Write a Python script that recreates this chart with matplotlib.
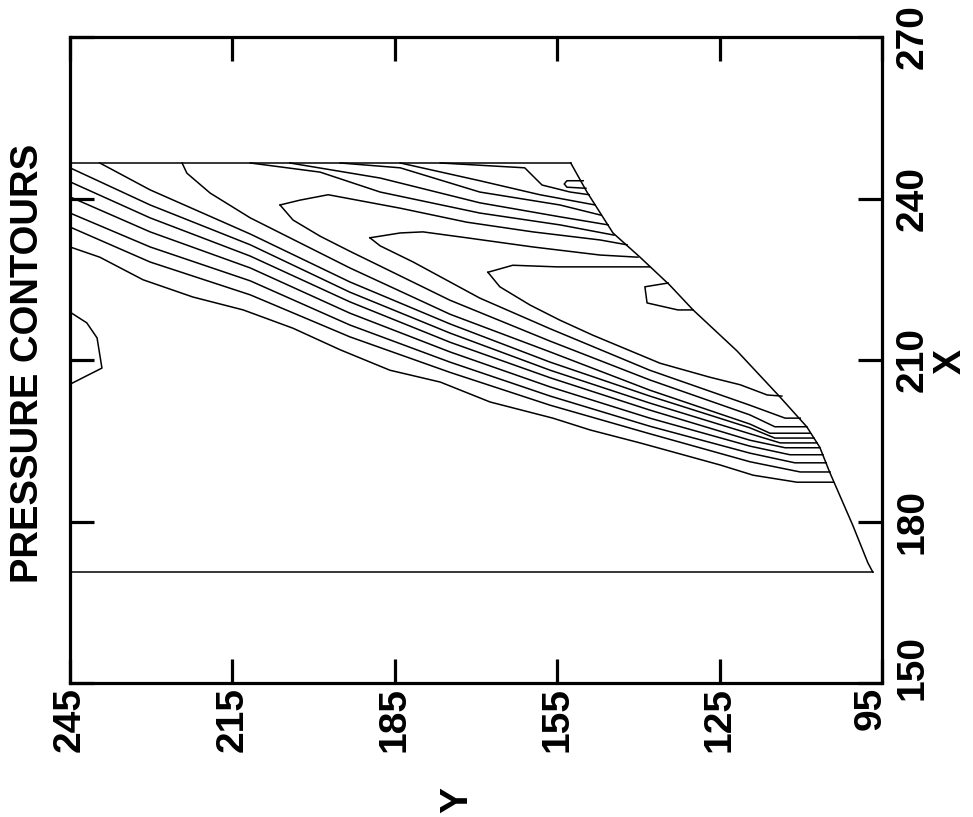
import matplotlib
matplotlib.use("Agg")
import matplotlib.pyplot as plt
from matplotlib.transforms import ScaledTranslation

plt.rcParams['font.family'] = ['Liberation Sans', 'DejaVu Sans']

# ---------------- data (horizontal axis = Y, vertical axis = X) ----------------
x_ticks = [150, 180, 210, 240, 270]
y_ticks = [245, 215, 185, 155, 125, 95]

domain_top_x = 246.6
domain_bottom_x = 170.6
domain_left_y = 245.0

body_y = [152.5, 149.5, 144.7, 139.7, 134.2, 129.9, 121.8, 114.0, 108.9, 106.5, 104.6, 100.4, 97.6, 96.7]
body_x = [246.6, 241.2, 233.6, 229.1, 223.9, 219.3, 211.7, 203.3, 197.6, 193.8, 189.0, 179.3, 172.3, 170.6]

# lower family of contours (left edge / top edge -> body)
l247_y = [245.0, 239.5, 231.5, 222.3, 213.0, 203.8, 195.1, 185.9, 176.6, 167.4, 155.8, 148.9, 139.7, 124.9, 118.8, 110.7, 104.0]
l247_x = [231.0, 229.1, 224.9, 221.7, 219.3, 215.9, 211.9, 208.1, 205.9, 202.2, 199.2, 197.0, 194.6, 190.5, 188.6, 187.3, 187.3]
l227_y = [245.0, 230.2, 211.7, 193.3, 174.8, 156.3, 137.9, 119.4, 110.1, 104.6]
l227_x = [234.7, 228.2, 222.1, 214.3, 207.7, 201.6, 196.3, 191.1, 189.2, 189.2]
l213_y = [245.0, 230.2, 211.7, 193.3, 174.8, 156.3, 137.9, 119.4, 111.1, 105.3]
l213_x = [237.3, 231.0, 224.7, 216.5, 209.6, 203.3, 197.7, 192.7, 190.9, 190.9]
l197_y = [245.0, 230.2, 211.7, 193.3, 174.8, 156.3, 137.9, 119.4, 112.0, 105.9]
l197_x = [240.3, 233.8, 227.1, 218.7, 211.5, 205.0, 199.2, 194.0, 192.4, 192.4]
l182_y = [245.0, 230.2, 211.7, 193.3, 174.8, 156.3, 137.9, 119.4, 112.9, 106.5]
l182_x = [243.1, 236.4, 229.3, 220.8, 213.3, 206.7, 200.7, 195.1, 193.7, 193.7]
l168_y = [245.0, 230.2, 211.7, 193.3, 174.8, 156.3, 137.9, 119.4, 113.8, 107.0]
l168_x = [245.7, 238.8, 231.4, 222.6, 215.0, 208.1, 202.0, 196.3, 194.6, 194.6]
t100_y = [239.5, 230.2, 211.7, 193.3, 174.8, 156.3, 137.9, 119.4, 114.8, 107.6]
t100_x = [246.6, 241.6, 233.4, 224.5, 216.7, 209.6, 203.3, 197.4, 195.5, 195.5]
t0_y = [224.3, 223.4, 219.1, 211.7, 193.3, 174.8, 156.3, 137.9, 119.4, 115.7, 108.3]
t0_x = [246.6, 244.7, 241.0, 236.4, 227.1, 218.5, 211.5, 204.4, 198.1, 196.4, 196.4]

# nested tongues
a_lo_y = [206.2, 203.8, 198.8, 193.3, 174.8, 156.3, 137.9, 119.4, 114.8, 108.9]
a_lo_x = [238.8, 236.0, 233.0, 230.2, 221.1, 213.5, 206.3, 199.8, 197.6, 197.6]
a_up_y = [206.2, 202.5, 197.3, 184.0, 171.7, 159.5, 147.1, 142.1]
a_up_x = [238.8, 239.7, 240.7, 238.2, 235.6, 233.8, 232.3, 231.4]
b_lo_y = [189.6, 187.7, 181.6, 169.3, 156.3, 137.9, 119.4, 112.9, 110.1]
b_lo_x = [232.7, 231.2, 228.2, 221.5, 215.8, 208.1, 201.6, 199.2, 199.2]
b_up_y = [189.6, 184.0, 179.8, 171.7, 159.5, 147.1, 140.1]
b_up_x = [232.7, 233.6, 233.8, 232.7, 231.0, 229.5, 229.1]
c_lo_y = [167.8, 165.6, 160.0, 154.5, 148.4, 136.0, 126.8, 121.2, 116.2, 113.5]
c_lo_x = [226.3, 223.6, 220.2, 217.4, 214.6, 209.4, 206.8, 205.4, 203.5, 203.3]
c_up_y = [167.8, 163.2, 155.0, 137.9]
c_up_x = [226.3, 227.6, 227.3, 227.3]
d_y = [134.5, 138.8, 138.4, 132.7, 129.9]
d_x = [224.3, 223.6, 220.6, 219.3, 219.3]

# upper family (top edge -> body)
u1_y = [211.7, 198.8, 187.7, 169.3, 154.5, 144.5]
u1_x = [246.6, 244.9, 241.2, 237.3, 235.1, 233.2]
u2_y = [204.4, 187.7, 169.3, 154.5, 145.6]
u2_x = [246.6, 243.8, 239.2, 236.6, 235.1]
u3_y = [195.1, 184.0, 169.3, 154.5, 146.9]
u3_x = [246.6, 245.7, 241.2, 238.8, 236.9]
u4_y = [184.0, 169.3, 158.2, 148.0]
u4_x = [246.6, 243.3, 240.7, 238.8]
u5_y = [176.6, 161.0, 157.8, 152.6, 149.1]
u5_x = [246.6, 245.7, 242.5, 241.2, 240.7]
loop_y = [150.2, 153.2, 153.7, 153.2, 149.7]
loop_x = [243.3, 243.3, 242.7, 242.1, 241.9]

# small bump at the left edge
bump_y = [245.0, 241.9, 240.0, 239.1, 244.6, 245.0]
bump_x = [218.9, 216.9, 214.1, 208.5, 205.7, 205.5]

contours = [
    (l247_y, l247_x), (l227_y, l227_x), (l213_y, l213_x), (l197_y, l197_x),
    (l182_y, l182_x), (l168_y, l168_x), (t100_y, t100_x), (t0_y, t0_x),
    (a_lo_y, a_lo_x), (a_up_y, a_up_x), (b_lo_y, b_lo_x), (b_up_y, b_up_x),
    (c_lo_y, c_lo_x), (c_up_y, c_up_x), (d_y, d_x),
    (u1_y, u1_x), (u2_y, u2_x), (u3_y, u3_x), (u4_y, u4_x), (u5_y, u5_x),
    (loop_y, loop_x), (bump_y, bump_x),
]

# ---------------- figure ----------------
fig = plt.figure(figsize=(9.73, 8.17), dpi=100)
ax = fig.add_axes([70 / 973, 1 - 683 / 817, 812 / 973, 646 / 817])

lw = 1.1
# domain boundary
ax.plot([domain_left_y, body_y[0]], [domain_top_x, domain_top_x], color='black', lw=lw)
ax.plot([domain_left_y, body_y[-1]], [domain_bottom_x, domain_bottom_x], color='black', lw=lw)
ax.plot(body_y, body_x, color='black', lw=lw)

for cy, cx in contours:
    ax.plot(cy, cx, color='black', lw=lw)

ax.set_xlim(245, 95)
ax.set_ylim(150, 270)
ax.set_xticks(y_ticks)
ax.set_yticks(x_ticks)
ax.set_xticklabels([str(v) for v in y_ticks])
ax.set_yticklabels([str(v) for v in x_ticks])

for s in ax.spines.values():
    s.set_linewidth(2.3)

ax.tick_params(axis='both', direction='in', length=17, width=2.3,
               labelsize=28, colors='black')
ax.tick_params(axis='x', bottom=True, top=True, labelrotation=90, pad=3)
ax.tick_params(axis='y', left=True, right=True, labelleft=False, labelright=True,
               labelrotation=90, pad=9)
for lab in ax.get_xticklabels() + ax.get_yticklabels():
    lab.set_fontweight('bold')
for lab in ax.get_yticklabels():
    lab.set_va('center')

# nudge the two corner labels apart, as in the reference
xt = ax.xaxis.get_major_ticks()
yt = ax.yaxis.get_major_ticks()
lab95 = xt[-1].label1
lab95.set_transform(lab95.get_transform() + ScaledTranslation(-0.11, 0, fig.dpi_scale_trans))
lab150 = yt[0].label2
lab150.set_transform(lab150.get_transform() + ScaledTranslation(0, 0.16, fig.dpi_scale_trans))

ax.set_xlabel('Y', fontsize=28, fontweight='bold', rotation=90)
ax.xaxis.set_label_coords((457 - 70) / 812, (683 - 800) / 646)
ax.xaxis.label.set_va('center')
ax.yaxis.set_label_position('right')
ax.set_ylabel('X', fontsize=27, fontweight='bold', rotation=90)
ax.yaxis.set_label_coords((951 - 70) / 812, (683 - 362) / 646)
ax.yaxis.label.set_va('center')
ax.yaxis.label.set_ha('center')

fig.text(28 / 973, 1 - 363 / 817, 'PRESSURE CONTOURS', rotation=90,
         ha='center', va='center', fontsize=27.5, fontweight='bold')

fig.savefig('out.png', dpi=100)
